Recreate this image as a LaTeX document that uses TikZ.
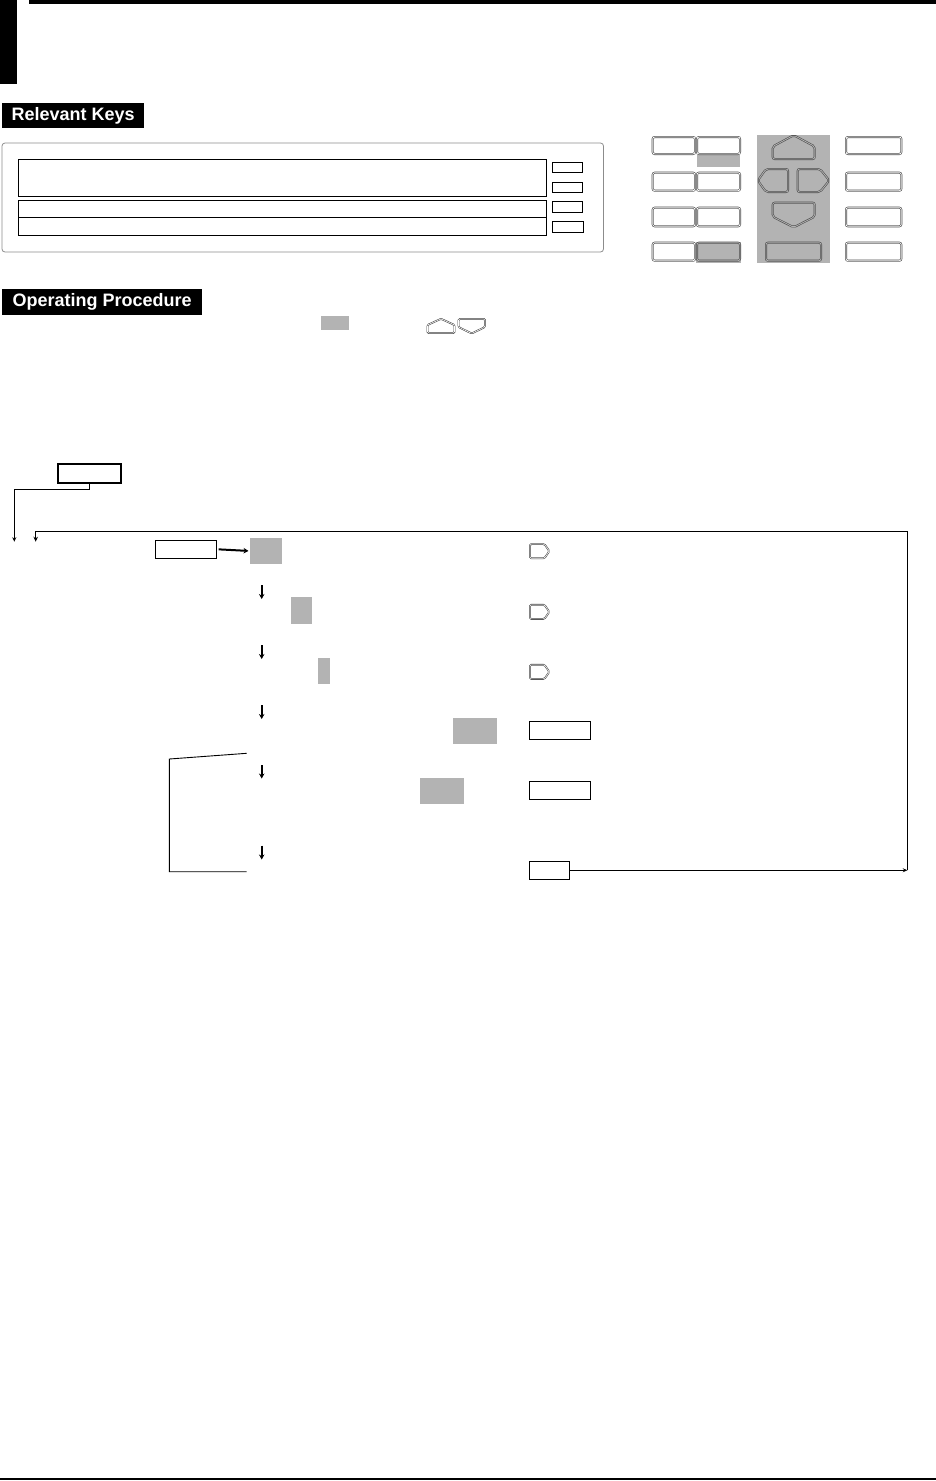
\documentclass[tikz,border=0pt]{standalone}
\usepackage{fontspec}
\newfontfamily\hfont{Liberation Sans}
\usetikzlibrary{arrows.meta,fit}
\definecolor{keygray}{RGB}{179,179,179}
\newcommand\kbkey[5][white]{\draw[keyd,double=#1] ({#2+1},{#3+1}) rectangle ({#4-1},{#5-1});}
\begin{document}
\begin{tikzpicture}[x=1pt,y=-1pt,
  hdr/.style={fill=black,text=white,font=\hfont\bfseries\fontsize{18}{21}\selectfont,inner sep=0,anchor=north west},
  frame/.style={draw,line width=0.9pt,inner sep=0,outer sep=0},
  thickframe/.style={draw,line width=2pt,inner sep=0,outer sep=0},
  grayblk/.style={fill=keygray,inner sep=0,outer sep=0},
  keyd/.style={draw=black!70,line width=0.6pt,double distance=0.8pt,rounded corners=2pt},
  keys/.style={draw=black!75,line width=0.55pt,double=white,double distance=0.6pt,rounded corners=1.2pt},
  conn/.style={line width=0.9pt,-{Stealth[length=4.5pt,width=4pt]}},
  bigarr/.style={line width=2pt,-{Stealth[length=5pt,width=5.5pt]}}]
\useasboundingbox (0,0) rectangle (936,1481);
% header bars
\fill (0,0) rectangle (16.5,84);
\fill (29,0) rectangle (936,4);
\node[hdr,minimum width=142,minimum height=25] (rk) at (2,103) {Relevant Keys};
\node[hdr,minimum width=200,minimum height=26] (op) at (2,289) {Operating Procedure};
% display panel
\draw[black!45,line width=0.8pt,rounded corners=3pt] (2,143) rectangle (603.5,252);
\node[frame,fit={(18.5,159) (546,196)}] (d1) {};
\node[frame,fit={(18.5,200.5) (546,217.5)}] (d2) {};
\node[frame,fit={(18.5,217.5) (546,235.5)}] (d3) {};
\node[frame,fit={(552,162) (582,172.5)}] (s1) {};
\node[frame,fit={(552,182) (582,192)}] (s2) {};
\node[frame,fit={(552,201) (582,212)}] (s3) {};
\node[frame,fit={(552,221) (583,232)}] (s4) {};
% keyboard
\fill[keygray] (696.7,155) rectangle (740,166.7);
\fill[keygray] (696,241.7) rectangle (741,262.5);
\fill[keygray] (756.7,135) rectangle (830,262.7);
\foreach \ya/\yb in {136/155,171.7/191.7,206.7/227.3,241.7/261.7}{
  \kbkey{651.7}{\ya}{696}{\yb}
  \kbkey{845}{\ya}{902.3}{\yb}}
\foreach \ya/\yb in {136/155,171.7/191.7,206.7/227.3}{
  \kbkey{696}{\ya}{741}{\yb}}
\kbkey[keygray]{696}{241.7}{741}{261.7}
\draw[keyd,double=keygray] (772.7,159) -- (772.7,146.5) -- (793.7,135.2) -- (814.7,146.5) -- (814.7,159) -- cycle;
\draw[keyd,double=keygray] (788,169) -- (766,169) -- (757.8,180.5) -- (766,192) -- (788,192) -- cycle;
\draw[keyd,double=keygray] (797.7,169) -- (820,169) -- (829.3,180.5) -- (820,192) -- (797.7,192) -- cycle;
\draw[keyd,double=keygray] (772.7,202.7) -- (814.7,202.7) -- (814.7,216.7) -- (793.7,227.3) -- (772.7,216.7) -- cycle;
\kbkey[keygray]{765}{241.7}{822}{261.7}
% operating procedure line
\node[grayblk,fit={(321,316) (349,330)}] (gk) {};
\draw[keys] (427.5,333) -- (427.5,325) -- (441,318.8) -- (454.5,325) -- (454.5,333) -- cycle;
\draw[keys] (458.5,319) -- (485,319) -- (485,327) -- (471.7,333.5) -- (458.5,327) -- cycle;
% flow
\node[thickframe,fit={(57.5,464) (121,482.5)}] (k0) {};
\coordinate (a0) at (14.3,541.7);
\draw[conn] (k0.south) -- ++(0,6.5) -| (a0);
\node[frame,fit={(155,540) (216.7,558.5)}] (k1) {};
\node[grayblk,fit={(250,538) (282,564)}] (g1) {};
\draw[bigarr,shorten <=2pt,shorten >=1.5pt] (k1.east) -- (g1.west);
\node[grayblk,fit={(290.7,597.3) (312.3,624.3)}] (g2) {};
\node[grayblk,fit={(317.7,657.7) (330,684)}] (g3) {};
\node[grayblk,fit={(452.7,717.7) (497.3,744)}] (g4) {};
\node[grayblk,fit={(420,777.7) (464,804)}] (g5) {};
\foreach \ya/\yb in {585/599,645/659,705/719,765/778.5,845.7/859.5}{
  \draw[bigarr] (261.7,\ya) -- (261.7,\yb);}
\draw[line width=0.9pt] (246.7,753.3) -- (169.3,759) -- (169.3,871.7) -- (246.7,871.7);
\foreach \y in {543.3,604,664}{
  \draw[keys] (530,{\y+0.8}) -- (544.5,{\y+0.8}) -- (549.3,{\y+7.85}) -- (544.5,{\y+14.9}) -- (530,{\y+14.9}) -- cycle;}
\node[frame,fit={(529,721) (590.7,739.3)}] (k4) {};
\node[frame,fit={(529,781) (590.7,799.3)}] (k5) {};
\node[frame,fit={(529,861) (569,879.5)}] (k6) {};
\coordinate (rc) at (907.3,531.3);
\coordinate (a1) at (35.7,541.7);
\draw[conn] (k6.east) -- (k6.east -| rc);
\draw[line width=0.9pt,-{Stealth[length=5pt,width=4.5pt]}] (k6.east -| rc) -- (rc) -| (a1);
% bottom rule
\fill (0,1477.5) rectangle (936,1479.5);
\end{tikzpicture}
\end{document}
